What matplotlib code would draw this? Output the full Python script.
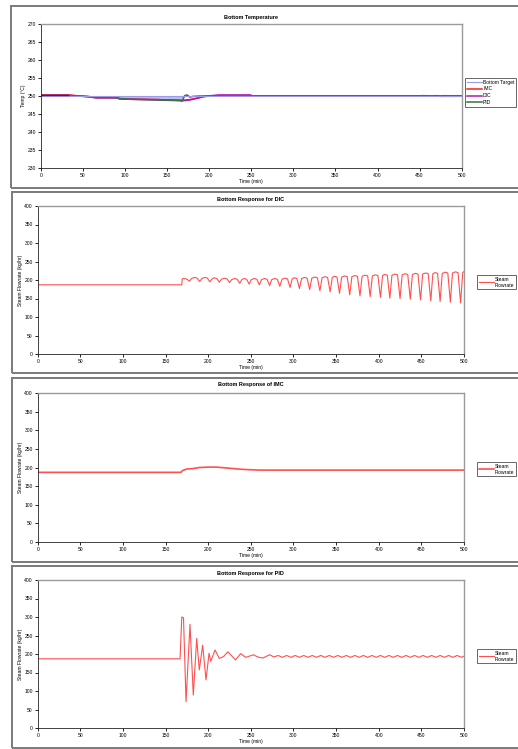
import matplotlib
matplotlib.use("Agg")
import matplotlib.pyplot as plt
from matplotlib.patches import Rectangle

# ---------------- data ----------------
x_ticks = [0, 50, 100, 150, 200, 250, 300, 350, 400, 450, 500]
temp_ticks = [230, 235, 240, 245, 250, 255, 260, 265, 270]
flow_ticks = [0, 50, 100, 150, 200, 250, 300, 350, 400]

# Panel 1: bottom temperature
target_t = [0, 500]
target_v = [250, 250]
imc_temp_t = [0, 33, 56, 66, 90, 94, 106, 138, 165, 169, 177, 185, 193, 199, 210, 500]
imc_temp_v = [250.3, 250.3, 249.8, 249.5, 249.5, 249.2, 249.1, 249.0, 248.8, 248.8, 249.0, 249.4, 249.8, 250.0, 250.0, 250.0]
dic_temp_t = [0, 33, 56, 66, 90, 94, 106, 138, 165, 169, 177, 185, 193, 199, 211, 249, 252, 500]
dic_temp_v = [250.2, 250.2, 249.8, 249.5, 249.5, 249.2, 249.1, 249.0, 248.8, 248.7, 248.9, 249.3, 249.8, 250.0, 250.3, 250.3, 250.0, 250.0]
pid_temp_t = [0, 33, 56, 66, 90, 94, 106, 138, 165, 168, 171, 174, 177, 181, 190, 440, 455, 460, 470, 475, 480, 490, 495, 500]
pid_temp_v = [250.1, 250.1, 249.9, 249.6, 249.6, 249.3, 249.1, 248.9, 248.7, 248.6, 250.1, 250.3, 249.7, 249.9, 250.0, 250.0, 250.1, 250.0, 250.1, 249.9, 250.1, 249.9, 250.1, 250.0]

# Panel 2: DIC steam flowrate
dic_flow_t = [0, 169, 169.5, 172, 175, 178,
              180.5, 184, 187, 190,
              192.5, 196, 199, 202,
              204.5, 207, 210, 213,
              215.5, 219, 222, 225,
              227.5, 231, 234, 237,
              239.5, 242, 245, 248,
              250.5, 254, 257, 260,
              262.5, 266, 269, 272,
              274.5, 278, 281, 284,
              286.5, 290, 293, 296,
              298.5, 301, 304, 307,
              309.5, 313, 316, 319,
              321.5, 325, 328, 331,
              333.5, 337, 340, 343,
              345.5, 348, 351, 354,
              356.5, 360, 363, 366,
              368.5, 372, 375, 378,
              380.5, 384, 387, 390,
              392.5, 396, 399, 402,
              404.5, 407, 410, 413,
              415.5, 419, 422, 425,
              427.5, 431, 434, 437,
              439.5, 443, 446, 449,
              451.5, 455, 458, 461,
              463.5, 466, 469, 472,
              474.5, 478, 481, 484,
              486.5, 490, 493, 496,
              498.5, 500]
dic_flow_v = [187, 187, 203, 204, 202, 197,
              204, 207, 205, 196,
              204, 207, 205, 195,
              203, 206, 204, 194,
              202, 205, 203, 193,
              201, 204, 202, 191,
              201, 204, 202, 189,
              201, 204, 202, 187,
              201, 204, 202, 185,
              201, 204, 202, 183,
              202, 205, 203, 180,
              203, 206, 204, 177,
              204, 207, 205, 174,
              205, 208, 206, 171,
              206, 209, 207, 168,
              207, 210, 208, 164,
              208, 211, 209, 160,
              209, 212, 210, 157,
              210, 213, 211, 155,
              211, 214, 212, 153,
              212, 215, 213, 151,
              213, 216, 214, 150,
              214, 217, 215, 148,
              215, 218, 216, 146,
              216, 219, 217, 144,
              217, 220, 218, 142,
              218, 221, 219, 140,
              219, 222, 220, 138,
              220, 223]

# Panel 3: IMC steam flowrate
imc_flow_t = [0, 168, 170, 175, 182, 190, 200, 210, 220, 230, 240, 250, 260, 500]
imc_flow_v = [187, 187, 192, 196, 197, 200, 201, 201, 199, 197, 195, 194, 193, 193]

# Panel 4: PID steam flowrate
pid_flow_t = [0, 167, 169, 171, 174, 178.6, 182.5, 186.5, 189.5, 193.5, 197.4, 201, 203,
              208, 213, 218, 223, 232, 238, 244, 248, 253, 258, 264, 272, 277,
              282, 287, 292, 297, 302, 307, 312, 317, 322, 327, 332, 337, 342, 347,
              352, 357, 362, 367, 372, 377, 382, 387, 392, 397, 402, 407, 412, 417,
              422, 427, 432, 437, 442, 447, 452, 457, 462, 467, 472, 477, 482, 487,
              492, 497, 500]
pid_flow_v = [187, 187, 300, 298, 71, 280, 89, 242, 157, 224, 130, 202, 180,
              211, 188, 193, 206, 184, 201, 191, 194, 198, 192, 189, 198, 192,
              196, 191, 196, 191, 196, 191, 196, 191, 196, 191, 196, 191, 196, 191,
              196, 191, 196, 191, 196, 191, 196, 191, 196, 191, 196, 191, 196, 191,
              196, 191, 196, 191, 196, 191, 196, 191, 196, 191, 196, 191, 196, 191,
              196, 191, 194]

titles = ["Bottom Temperature", "Bottom Response for DIC",
          "Bottom Response of IMC", "Bottom Response for PID"]

# ---------------- figure ----------------
W, H = 518, 749
fig = plt.figure(figsize=(W / 100, H / 100), dpi=100)
plt.rcParams['font.family'] = ['Liberation Sans', 'DejaVu Sans']

FS = 3.6


def fx(px):
    return px / W


def fy(py):
    return 1 - py / H


# chart-area borders
for (x0, y0, y1) in [(11, 6, 188), (12, 192, 373), (12, 378, 562), (12, 566, 748)]:
    fig.patches.append(Rectangle((fx(x0), fy(y1)), fx(600 - x0), (y1 - y0) / H,
                                 transform=fig.transFigure, fill=False,
                                 edgecolor='#7a7a7a', linewidth=1.4))

# axes rectangles: left, top, right, bottom (pixels)
rects = [(40.7, 24, 461.7, 168), (37.7, 206, 464, 354),
         (37.7, 393, 464, 542), (37.7, 580, 464, 728)]
axes = []
for (l, t, r, b) in rects:
    ax = fig.add_axes([fx(l), fy(b), (r - l) / W, (b - t) / H])
    axes.append(ax)


def style(ax, yticks):
    ax.set_xlim(0, 500)
    ax.set_ylim(yticks[0], yticks[-1])
    ax.set_xticks(x_ticks)
    ax.set_yticks(yticks)
    ax.tick_params(labelsize=FS, length=2, width=0.6, pad=1.5, direction='out')
    for s in ['top', 'right']:
        ax.spines[s].set_color('#9a9a9a')
        ax.spines[s].set_linewidth(1.0)
    for s in ['left', 'bottom']:
        ax.spines[s].set_color('#222222')
        ax.spines[s].set_linewidth(0.6)
    ax.set_xlabel("Time (min)", fontsize=FS, labelpad=0.5)


# Panel 1
ax = axes[0]
style(ax, temp_ticks)
ax.fill_between(pid_temp_t, pid_temp_v, 250,
                where=[(56 <= t <= 168) for t in pid_temp_t],
                color='#bcbcf0', linewidth=0, interpolate=True)
l2, = ax.plot(imc_temp_t, imc_temp_v, color='#ff1a1a', lw=1.1, label='IMC')
l3, = ax.plot(dic_temp_t, dic_temp_v, color='#b01ab0', lw=1.1, label='DIC')
l4, = ax.plot(pid_temp_t, pid_temp_v, color='#3f6f3f', lw=1.1, label='PID')
l1, = ax.plot(target_t, target_v, color='#9b9bea', lw=0.8, label='Bottom Target')
ax.plot([0, 33], [250.25, 250.25], color='#2a2a6a', lw=0.9)
ax.set_ylabel("Temp (°C)", fontsize=FS, labelpad=1)
lg = fig.legend(handles=[l1, l2, l3, l4], loc='upper left',
                bbox_to_anchor=(fx(465), fy(78)), fontsize=FS, frameon=True,
                fancybox=False, edgecolor='#222222', borderpad=0.35, labelspacing=0.35,
                handlelength=3.0, handletextpad=0.25, borderaxespad=0)
lg.get_frame().set_linewidth(0.6)
fig.text(fx((40.7 + 461.7) / 2), fy(17), titles[0], fontsize=FS + 0.4,
         fontweight='bold', ha='center', va='center')

flows = [(dic_flow_t, dic_flow_v, 0.8), (imc_flow_t, imc_flow_v, 1.2),
         (pid_flow_t, pid_flow_v, 0.8)]
leg_y = [275, 462, 649]
title_y = [199, 385, 573]
for i, (t, v, lw) in enumerate(flows):
    ax = axes[i + 1]
    style(ax, flow_ticks)
    ln, = ax.plot(t, v, color='#ff5050', lw=lw, label='Steam\nFlowrate')
    ax.set_ylabel("Steam Flowrate (kg/hr)", fontsize=FS, labelpad=1)
    lg = fig.legend(handles=[ln], loc='upper left',
                    bbox_to_anchor=(fx(477), fy(leg_y[i])), fontsize=FS, frameon=True,
                    fancybox=False, edgecolor='#222222', borderpad=0.35,
                    handlelength=3.0, handletextpad=0.25, borderaxespad=0)
    lg.get_frame().set_linewidth(0.6)
    fig.text(fx((37.7 + 464) / 2), fy(title_y[i]), titles[i + 1], fontsize=FS + 0.4,
             fontweight='bold', ha='center', va='center')

fig.savefig("out.png", dpi=100)
